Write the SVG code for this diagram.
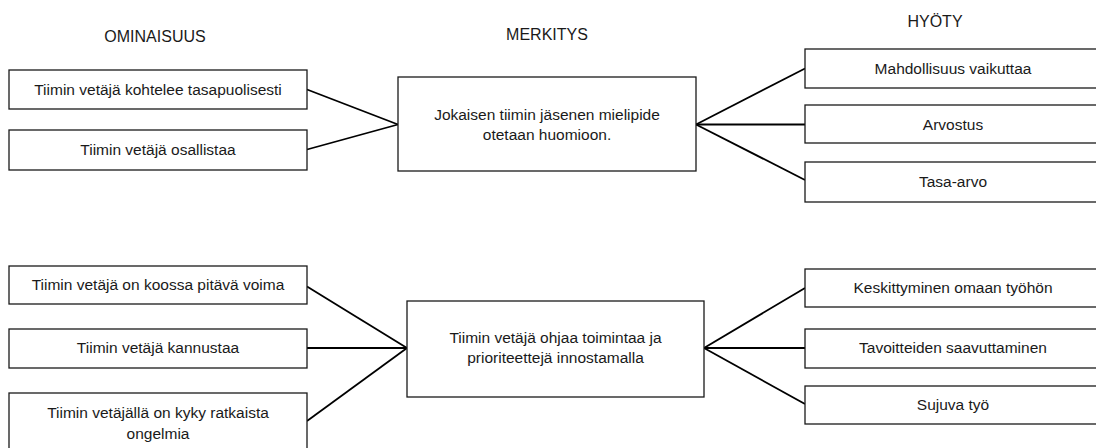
<svg xmlns="http://www.w3.org/2000/svg" width="1096" height="448" viewBox="0 0 1096 448">
  <style>
    .box { fill: #fff; stroke: #1a1a1a; stroke-width: 1.3; }
    .lbl { font-family: "Liberation Sans", Arial, sans-serif; font-size: 15.5px; fill: #1a1a1a; text-anchor: middle; }
    .hdr { font-family: "Liberation Sans", Arial, sans-serif; font-size: 16px; fill: #1a1a1a; text-anchor: middle; }
    .link { stroke: #000; stroke-width: 1.8; fill: none; }
  </style>
  <rect width="1096" height="448" fill="#fff"/>

  <!-- column headings -->
  <g id="headings">
    <text class="hdr" x="155" y="42">OMINAISUUS</text>
    <text class="hdr" x="547" y="40">MERKITYS</text>
    <text class="hdr" x="935" y="27">HYÖTY</text>
  </g>

  <!-- connectors -->
  <g id="connectors">
    <line class="link" x1="307" y1="89.5" x2="398" y2="124.5"/>
    <line class="link" x1="307" y1="149.5" x2="398" y2="124.5"/>
    <line class="link" x1="696" y1="124.5" x2="805" y2="68.5"/>
    <line class="link" x1="696" y1="124.5" x2="805" y2="124.5"/>
    <line class="link" x1="696" y1="124.5" x2="805" y2="180"/>

    <line class="link" x1="307" y1="286.5" x2="407" y2="348"/>
    <line class="link" x1="307" y1="348" x2="407" y2="348"/>
    <line class="link" x1="307" y1="421" x2="407" y2="348"/>
    <line class="link" x1="704" y1="348" x2="805" y2="288"/>
    <line class="link" x1="704" y1="348" x2="805" y2="348"/>
    <line class="link" x1="704" y1="348" x2="805" y2="404"/>
  </g>

  <!-- upper chain -->
  <g id="o1">
    <rect class="box" x="9" y="70" width="298" height="39"/>
    <text class="lbl" x="158" y="94.5">Tiimin vetäjä kohtelee tasapuolisesti</text>
  </g>
  <g id="o2">
    <rect class="box" x="9" y="130" width="298" height="40"/>
    <text class="lbl" x="158" y="155">Tiimin vetäjä osallistaa</text>
  </g>
  <g id="m1">
    <rect class="box" x="398" y="77" width="298" height="94"/>
    <text class="lbl" x="547" y="119.5">Jokaisen tiimin jäsenen mielipide</text>
    <text class="lbl" x="547" y="139.5">otetaan huomioon.</text>
  </g>
  <g id="h1">
    <rect class="box" x="805" y="49" width="300" height="39"/>
    <text class="lbl" x="953" y="73.5">Mahdollisuus vaikuttaa</text>
  </g>
  <g id="h2">
    <rect class="box" x="805" y="105" width="300" height="38"/>
    <text class="lbl" x="953" y="129.5">Arvostus</text>
  </g>
  <g id="h3">
    <rect class="box" x="805" y="162" width="300" height="40"/>
    <text class="lbl" x="953" y="186.5">Tasa-arvo</text>
  </g>

  <!-- lower chain -->
  <g id="o3">
    <rect class="box" x="9" y="266" width="298" height="38"/>
    <text class="lbl" x="158" y="290">Tiimin vetäjä on koossa pitävä voima</text>
  </g>
  <g id="o4">
    <rect class="box" x="9" y="329" width="298" height="39"/>
    <text class="lbl" x="158" y="353">Tiimin vetäjä kannustaa</text>
  </g>
  <g id="o5">
    <rect class="box" x="9" y="393" width="298" height="70"/>
    <text class="lbl" x="158" y="417.5">Tiimin vetäjällä on kyky ratkaista</text>
    <text class="lbl" x="158" y="439">ongelmia</text>
  </g>
  <g id="m2">
    <rect class="box" x="407" y="301" width="297" height="96"/>
    <text class="lbl" x="555.5" y="343">Tiimin vetäjä ohjaa toimintaa ja</text>
    <text class="lbl" x="555.5" y="363">prioriteettejä innostamalla</text>
  </g>
  <g id="h4">
    <rect class="box" x="805" y="269" width="300" height="38"/>
    <text class="lbl" x="953" y="293">Keskittyminen omaan työhön</text>
  </g>
  <g id="h5">
    <rect class="box" x="805" y="329" width="300" height="39"/>
    <text class="lbl" x="953" y="353">Tavoitteiden saavuttaminen</text>
  </g>
  <g id="h6">
    <rect class="box" x="805" y="386" width="300" height="38"/>
    <text class="lbl" x="953" y="410">Sujuva työ</text>
  </g>
</svg>
